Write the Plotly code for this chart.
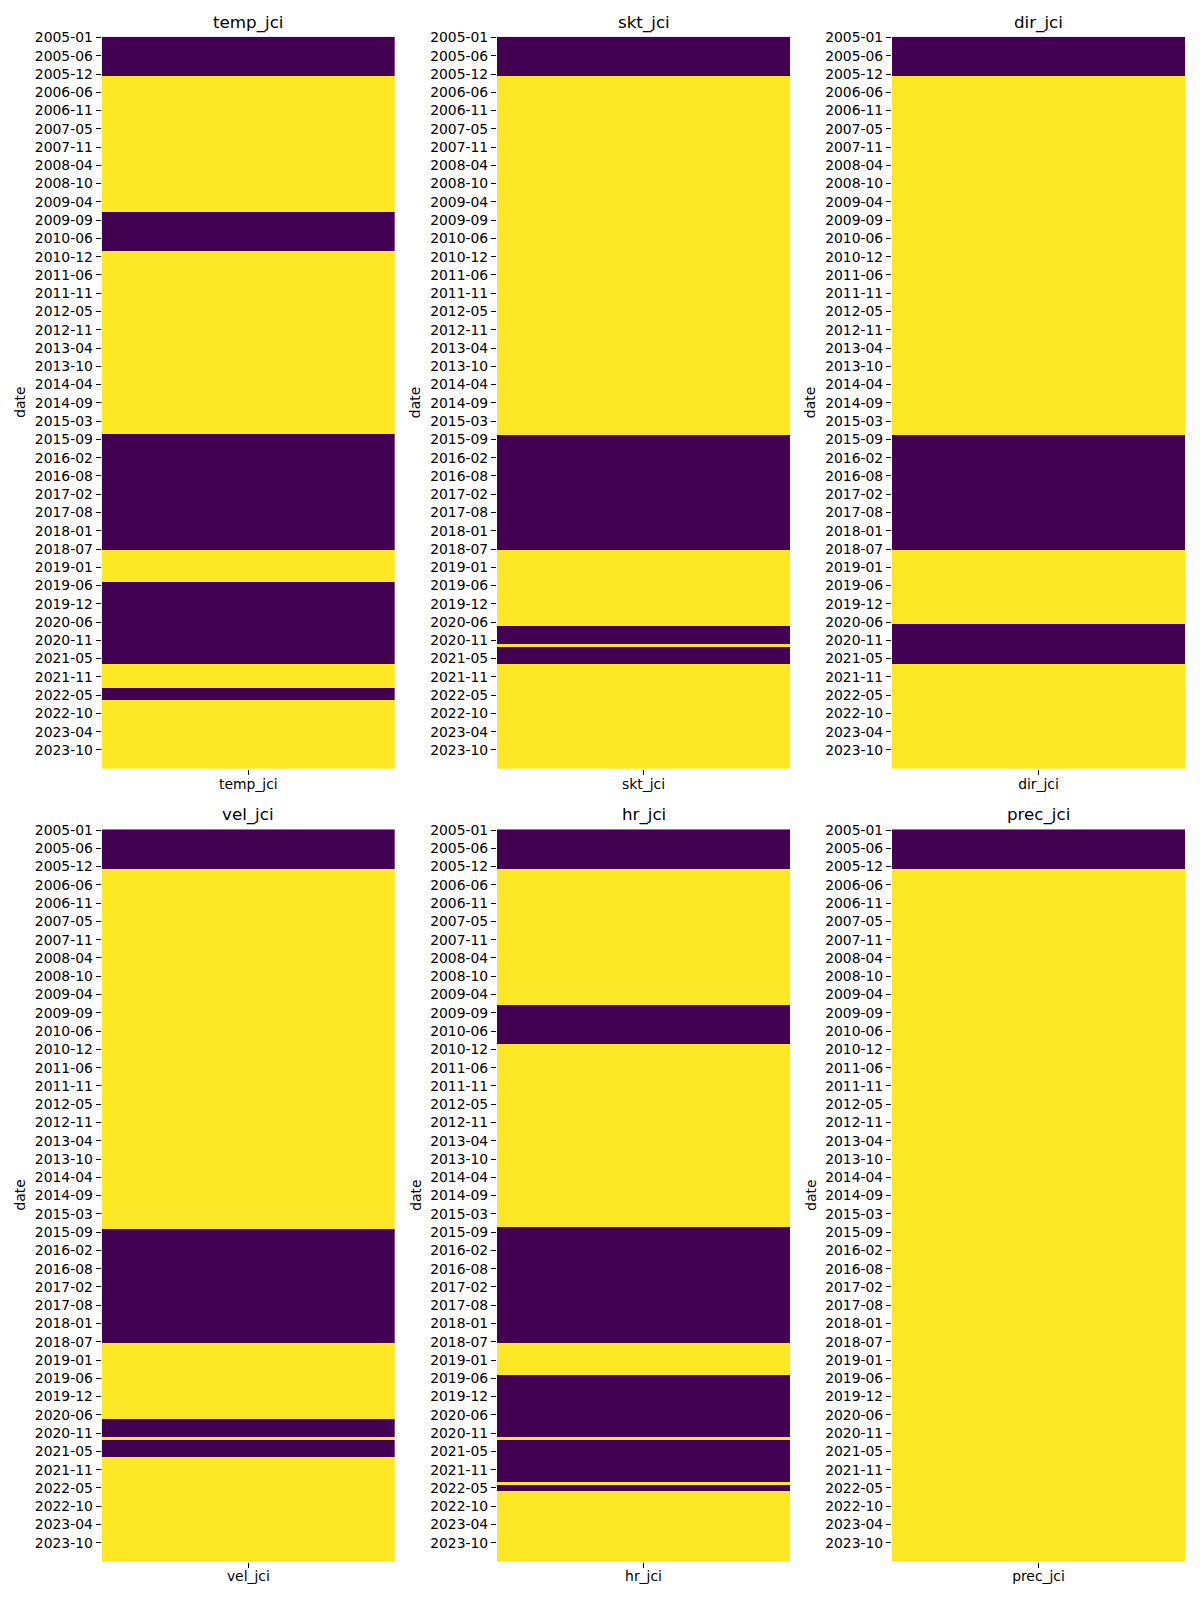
import plotly.graph_objects as go
from plotly.subplots import make_subplots

# ---------------- data ----------------
date_ticks = [
    "2005-01", "2005-06", "2005-12", "2006-06", "2006-11", "2007-05", "2007-11",
    "2008-04", "2008-10", "2009-04", "2009-09", "2010-06", "2010-12", "2011-06",
    "2011-11", "2012-05", "2012-11", "2013-04", "2013-10", "2014-04", "2014-09",
    "2015-03", "2015-09", "2016-02", "2016-08", "2017-02", "2017-08", "2018-01",
    "2018-07", "2019-01", "2019-06", "2019-12", "2020-06", "2020-11", "2021-05",
    "2021-11", "2022-05", "2022-10", "2023-04", "2023-10",
]
rows_per_tick = 12
n_rows = 481

variables = ["temp_jci", "skt_jci", "dir_jci", "vel_jci", "hr_jci", "prec_jci"]

# run-length encoded cell values (value, number of rows); 0 = purple, 1 = yellow
temp_jci_runs = [(0, 26), (1, 89), (0, 26), (1, 120), (0, 76), (1, 21), (0, 54),
                 (1, 16), (0, 8), (1, 45)]
skt_jci_runs = [(0, 26), (1, 236), (0, 75), (1, 50), (0, 12), (1, 2), (0, 11), (1, 69)]
dir_jci_runs = [(0, 26), (1, 236), (0, 75), (1, 49), (0, 26), (1, 69)]
vel_jci_runs = [(0, 26), (1, 236), (0, 75), (1, 50), (0, 12), (1, 2), (0, 11), (1, 69)]
hr_jci_runs = [(0, 26), (1, 89), (0, 26), (1, 120), (0, 76), (1, 21), (0, 41),
               (1, 2), (0, 27), (1, 2), (0, 4), (1, 47)]
prec_jci_runs = [(0, 26), (1, 455)]

runs = {
    "temp_jci": temp_jci_runs,
    "skt_jci": skt_jci_runs,
    "dir_jci": dir_jci_runs,
    "vel_jci": vel_jci_runs,
    "hr_jci": hr_jci_runs,
    "prec_jci": prec_jci_runs,
}


def expand(rl):
    out = []
    for v, c in rl:
        out += [v] * c
    return out


# ---------------- figure ----------------
W, H = 1200, 1600
fig = make_subplots(rows=2, cols=3)

col_px = [(101.7, 395.0), (497.0, 790.0), (892.0, 1185.0)]
row_px = [(36.7, 769.0), (829.3, 1561.8)]

FONT = "DejaVu Sans"
TICK_SIZE = 13.9
TITLE_SIZE = 16.7

tickvals = [i * rows_per_tick for i in range(len(date_ticks))]
annotations = []

for i, name in enumerate(variables):
    r, c = divmod(i, 3)
    z = expand(runs[name])
    fig.add_trace(
        go.Heatmap(
            z=[[v] for v in z],
            x=[name],
            y=list(range(len(z))),
            colorscale=[[0, "#440154"], [1, "#fde725"]],
            zmin=0, zmax=1,
            showscale=False,
            hoverinfo="skip",
        ),
        row=r + 1, col=c + 1,
    )
    idx = "" if i == 0 else str(i + 1)
    x0, x1 = col_px[c]
    y0, y1 = row_px[r]
    fig.layout["xaxis" + idx].update(
        domain=[x0 / W, x1 / W],
        type="category", automargin=False,
        ticks="outside", ticklen=5, tickwidth=1, tickcolor="black",
        ticklabelstandoff=-3,
        tickfont=dict(family=FONT, size=TICK_SIZE, color="black"),
        showgrid=False, zeroline=False, showline=False,
    )
    fig.layout["yaxis" + idx].update(
        domain=[1 - y1 / H, 1 - y0 / H],
        range=[n_rows - 0.5, -0.5], automargin=False,
        tickmode="array", tickvals=tickvals, ticktext=date_ticks,
        ticks="outside", ticklen=5, tickwidth=1, tickcolor="black",
        tickfont=dict(family=FONT, size=TICK_SIZE, color="black"),
        showgrid=False, zeroline=False, showline=False,
    )
    # panel title
    annotations.append(dict(
        text=name, xref="paper", yref="paper",
        x=(x0 + x1) / 2 / W, y=1 - (y0 - 2) / H,
        xanchor="center", yanchor="bottom", showarrow=False,
        font=dict(family=FONT, size=TITLE_SIZE, color="black"),
    ))
    # y-axis label
    annotations.append(dict(
        text="date", xref="paper", yref="paper",
        x=(x0 - 81.7) / W, y=1 - (y0 + y1) / 2 / H,
        xanchor="center", yanchor="middle", textangle=-90, showarrow=False,
        font=dict(family=FONT, size=TICK_SIZE, color="black"),
    ))

fig.update_layout(
    width=W, height=H,
    margin=dict(l=0, r=0, t=0, b=0, autoexpand=False),
    paper_bgcolor="white", plot_bgcolor="white",
    showlegend=False,
    annotations=annotations,
    font=dict(family=FONT, color="black"),
)

fig.write_html("out.html")
